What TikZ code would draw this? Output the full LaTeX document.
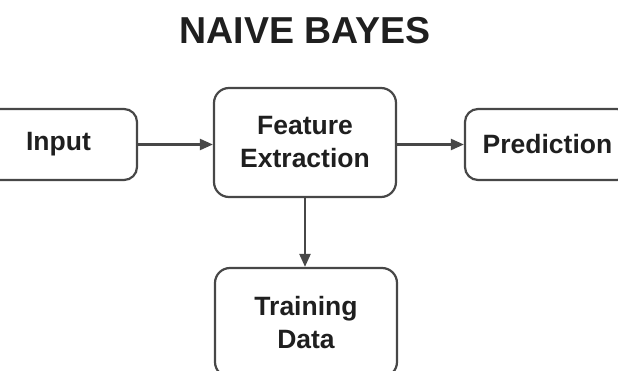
\documentclass[tikz,border=0pt]{standalone}
\usepackage{fontspec}
\setmainfont{Liberation Sans}
\usetikzlibrary{arrows.meta}
\begin{document}
\begin{tikzpicture}[x=1pt,y=1pt,
  box/.style={draw=black!72, line width=2.2pt, rounded corners=13pt, align=center,
    font=\bfseries\fontsize{26.5}{33}\selectfont, text=black!88, inner sep=0pt},
  conn/.style={draw=black!72, line width=2.2pt, -{Triangle[length=13pt,width=11pt]}}]
\useasboundingbox (0,0) rectangle (618,370);
\clip (0,0) rectangle (618,370);
\node[font=\bfseries\fontsize{37.5}{42}\selectfont, text=black!88] (title) at (305,339) {NAIVE BAYES};
\node[box, minimum width=157pt, minimum height=71pt] (input) at (58.5,225.5) {Input};
\node[box, minimum width=182pt, minimum height=109pt, rounded corners=15pt] (feat) at (305,227.5) {Feature\\Extraction};
\node[box, minimum width=165pt, minimum height=71pt] (pred) at (547.5,225.5) {Prediction};
\node[box, minimum width=182pt, minimum height=109pt, rounded corners=15pt] (train) at (306,47.5) {Training\\Data};
\draw[conn] (input.east) -- (feat.west |- input.east);
\draw[conn] (feat.east |- pred.west) -- (pred.west);
\draw[conn] (feat.south) -- (feat.south |- train.north);
\end{tikzpicture}
\end{document}
